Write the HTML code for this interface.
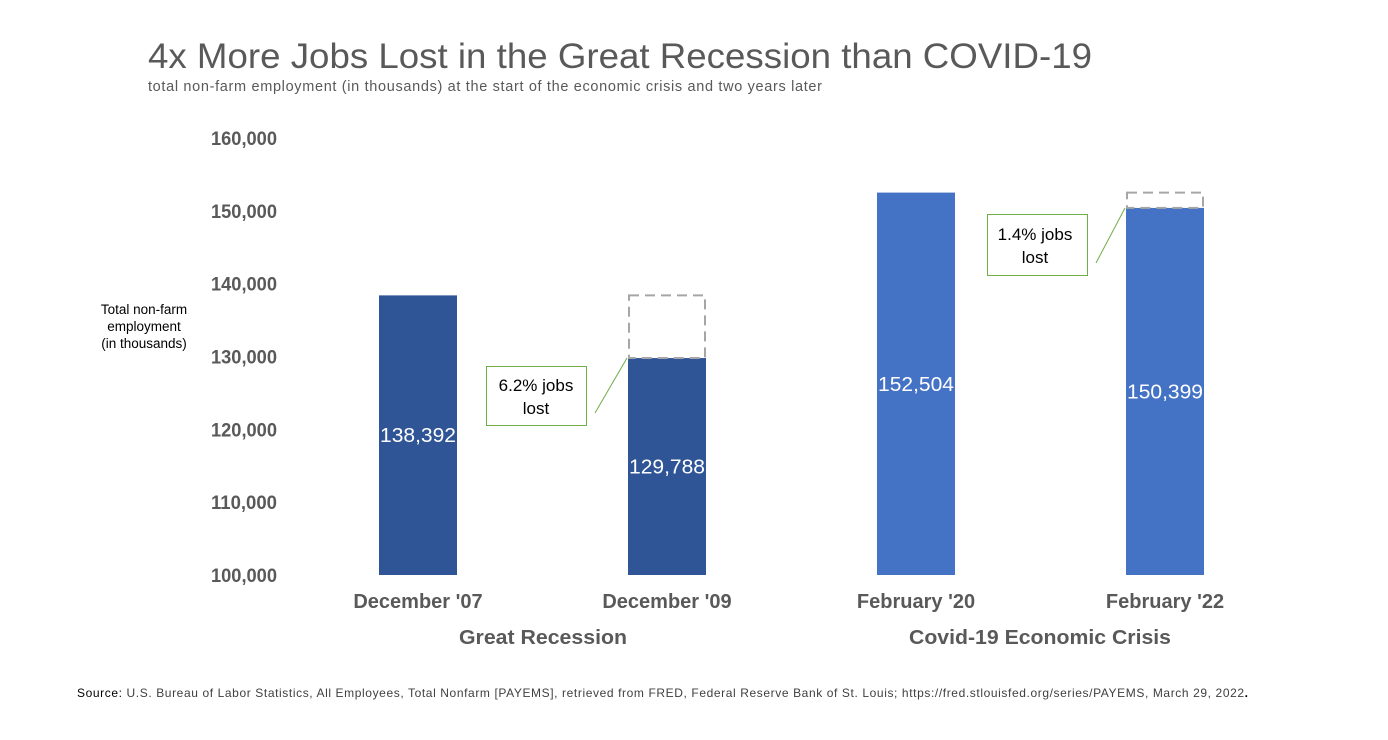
<!DOCTYPE html>
<html><head><meta charset="utf-8"><style>
body{margin:0;background:#fff;width:1388px;height:740px;overflow:hidden;font-family:"Liberation Sans",Arial,sans-serif}
svg{display:block}
</style></head><body>
<svg id="chart" width="1388" height="740">
<text x="148" y="68" font-size="35" fill="#595959" textLength="944" lengthAdjust="spacingAndGlyphs">4x More Jobs Lost in the Great Recession than COVID-19</text>
<text x="148" y="91" font-size="14.5" fill="#595959" textLength="674" lengthAdjust="spacing">total non-farm employment (in thousands) at the start of the economic crisis and two years later</text>
<g font-size="13.5" fill="#000" text-anchor="middle">
<text x="144" y="314">Total non-farm</text><text x="144" y="331">employment</text><text x="144" y="348">(in thousands)</text></g>
<g id="yticks"></g><g id="bars"></g>
<g font-size="20" font-weight="bold" fill="#595959" text-anchor="middle">
<text x="543" y="644" textLength="168" lengthAdjust="spacingAndGlyphs">Great Recession</text>
<text x="1040" y="644" textLength="262" lengthAdjust="spacingAndGlyphs">Covid-19 Economic Crisis</text></g>
<rect x="486.5" y="366.5" width="100" height="59" fill="#fff" stroke="#70AD47"/>
<text x="536" y="391" font-size="17" text-anchor="middle">6.2% jobs</text><text x="536" y="414" font-size="17" text-anchor="middle">lost</text>
<line x1="595" y1="413" x2="627" y2="358" stroke="#70AD47"/>
<rect x="987.5" y="214.5" width="100" height="61" fill="#fff" stroke="#70AD47"/>
<text x="1035" y="240" font-size="17" text-anchor="middle">1.4%  jobs</text><text x="1035" y="263" font-size="17" text-anchor="middle">lost</text>
<line x1="1096" y1="263" x2="1125" y2="208" stroke="#70AD47"/>
<text x="77" y="697" font-size="12" fill="#000" textLength="1171" lengthAdjust="spacing"><tspan>Source:</tspan><tspan fill="#404040"> U.S. Bureau of Labor Statistics, All Employees, Total Nonfarm [PAYEMS], retrieved from FRED, Federal Reserve Bank of St. Louis; https://fred.stlouisfed.org/series/PAYEMS, March 29, 2022</tspan><tspan font-weight="bold">.</tspan></text>
</svg>
<script>
const categories=["December '07","December '09","February '20","February '22"];
const values=[138392,129788,152504,150399];
const priorValues=[null,138392,null,152504];
const barColors=["#2F5597","#2F5597","#4472C4","#4472C4"];
const yTicks=[100000,110000,120000,130000,140000,150000,160000];
const NS="http://www.w3.org/2000/svg";
function y(v){return 575-(v-100000)*437/60000;}
function xc(i){return 418+i*249;}
const bw=78;
function mk(t,a,p){const e=document.createElementNS(NS,t);for(const k in a)e.setAttribute(k,a[k]);p.appendChild(e);return e;}
const yt=document.getElementById('yticks'),bg=document.getElementById('bars');
yTicks.forEach(v=>{const t=mk('text',{x:277,y:y(v)+7,'font-size':19,'font-weight':'bold',fill:'#595959','text-anchor':'end',textLength:66,lengthAdjust:'spacingAndGlyphs'},yt);


t.textContent=v.toLocaleString('en-US');});
values.forEach((v,i)=>{
const r=mk('rect',{x:xc(i)-bw/2,y:y(v),width:bw,height:575-y(v),fill:barColors[i]},bg);


const t=mk('text',{x:xc(i),y:(y(v)+575)/2+7,'font-size':20,fill:'#fff','text-anchor':'middle',textLength:76,lengthAdjust:'spacingAndGlyphs'},bg);


t.textContent=v.toLocaleString('en-US');
const c=mk('text',{x:xc(i),y:608,'font-size':20,'font-weight':'bold',fill:'#595959','text-anchor':'middle'},bg);


c.textContent=categories[i];
if(priorValues[i]!=null){
const d=mk('rect',{x:xc(i)-bw/2+1,y:y(priorValues[i]),width:bw-2,height:y(v)-y(priorValues[i]),fill:'none',stroke:'#A6A6A6','stroke-width':2,'stroke-dasharray':'10,6'},bg);

}
});
</script>
</body></html>
